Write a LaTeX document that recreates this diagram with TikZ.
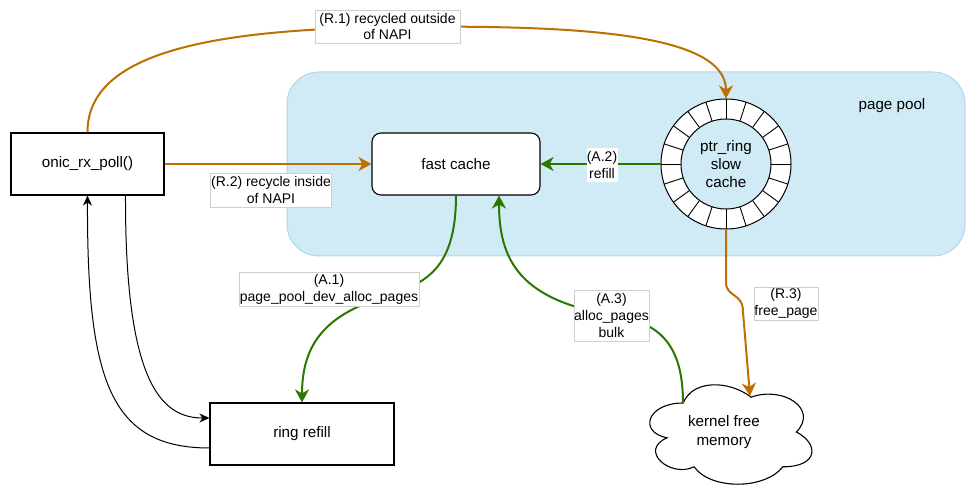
\documentclass[tikz,border=0pt]{standalone}
\usepackage{fontspec}
\setmainfont{Liberation Sans}
\usetikzlibrary{arrows.meta}

\definecolor{orng}{HTML}{BD7000}
\definecolor{grn}{HTML}{2D7600}
\definecolor{poolfill}{HTML}{D0EAF6}
\definecolor{poolline}{HTML}{B1D6EC}
\definecolor{lblline}{HTML}{CFCFCF}

\tikzset{
  nodefont/.style={font=\fontsize{15.2}{18.2}\selectfont},
  lblfont/.style={font=\fontsize{14}{16.8}\selectfont},
  box/.style={draw=black, line width=1.1pt, fill=white, inner sep=0pt, nodefont, align=center},
  roundbox/.style={box, rounded corners=9pt},
  lbl/.style={fill=white, draw=lblline, line width=0.8pt, inner sep=0pt, lblfont, align=center},
  lblplain/.style={fill=white, inner sep=0pt, lblfont, align=center},
  recycle/.style={draw=orng, line width=2pt, -{Stealth[length=13pt,width=14pt,inset=4pt]}},
  alloc/.style={draw=grn, line width=2pt, -{Stealth[length=13pt,width=14pt,inset=4pt]}},
  ctrl/.style={draw=black, line width=1pt, -{Stealth[length=10pt,width=9pt,inset=3pt]}},
}

\begin{document}
\begin{tikzpicture}[x=1pt, y=-1pt]
\useasboundingbox (0,0) rectangle (967,489);

% page pool area
\node[draw=poolline, fill=poolfill, line width=1pt, rounded corners=32pt,
      minimum width=678pt, minimum height=184pt, inner sep=0pt] (pool) at (626,164) {};
\node[nodefont] (pooltitle) at (892,106) {page pool};

% main blocks
\node[box, minimum width=153pt, minimum height=62pt] (poll) at (87.5,164) {onic\_rx\_poll()};
\node[roundbox, minimum width=168pt, minimum height=62pt] (fc) at (456,164) {fast cache};
\node[box, minimum width=184pt, minimum height=62pt] (refill) at (302,434) {ring refill};

% ptr_ring drawn as a slotted ring
\node[circle, draw=black, line width=1pt, fill=white, minimum size=130pt, inner sep=0pt] (ring) at (726,164) {};
\foreach \a in {0,18,...,342}
  \draw[line width=0.9pt] ([shift={(\a:45)}]ring.center) -- ([shift={(\a:65)}]ring.center);
\node[circle, draw=black, line width=1pt, fill=poolfill, minimum size=90pt, inner sep=0pt,
      nodefont, align=center] (ringin) at (726,164) {ptr\_ring\\slow\\cache};

% kernel free memory cloud
\begin{scope}[shift={(638,374)}, x=181pt, y=-116pt]
  \draw[line width=1.1pt, fill=white]
    (0.25,0.25) .. controls (0.05,0.25) and (0,0.5) .. (0.16,0.55)
    .. controls (0,0.66) and (0.18,0.9) .. (0.31,0.8)
    .. controls (0.4,1) and (0.7,1) .. (0.8,0.8)
    .. controls (1,0.8) and (1,0.6) .. (0.875,0.5)
    .. controls (1,0.3) and (0.8,0.1) .. (0.625,0.2)
    .. controls (0.5,0.05) and (0.3,0.05) .. (0.25,0.25) -- cycle;
\end{scope}
\node[nodefont, align=center] (mem) at (724,432) {kernel free\\memory};
\coordinate (memA) at (683,403);
\coordinate (memR) at (750,396);

% recycle paths
\draw[recycle] (poll.north) .. controls (87,50) and (220,30) .. (387,27)
  .. controls (560,25) and (726,30) .. (ring.north);
\draw[recycle] (poll.east) -- (fc.west);
\draw[recycle] (ring.south) -- (726,282) .. controls (726,298) and (743,292) .. (743,312) -- (memR);

% allocation paths
\draw[alloc] (ring.west) -- (fc.east);
\draw[alloc] (fc.south) .. controls (456,275) and (420,285) .. (380,298)
  .. controls (330,315) and (302,340) .. (refill.north);
\draw[alloc] (memA) .. controls (683,345) and (660,322) .. (612,315)
  .. controls (520,300) and (499,260) .. ([xshift=43pt]fc.south);

% driver loop
\draw[ctrl] ([xshift=38pt]poll.south) .. controls (125,380) and (160,418) .. ([yshift=16pt]refill.west);
\draw[ctrl] ([yshift=-14pt]refill.west) .. controls (110,448) and (87,380) .. (poll.south);

% edge labels
\node[lbl, minimum width=145pt, minimum height=33pt] (lr1) at (387.5,26.5) {(R.1) recycled outside\\of NAPI};
\node[lbl, minimum width=121pt, minimum height=34pt] (lr2) at (271,190) {(R.2) recycle inside\\of NAPI};
\node[lbl, minimum width=64pt, minimum height=33pt] (lr3) at (786,303.5) {(R.3)\\free\_page};
\node[lbl, minimum width=180pt, minimum height=34pt] (la1) at (329,289) {(A.1)\\page\_pool\_dev\_alloc\_pages};
\node[lblplain, minimum width=31pt, minimum height=34pt] (la2) at (602,165) {(A.2)\\refill};
\node[lbl, minimum width=75pt, minimum height=51pt] (la3) at (611.5,315.5) {(A.3)\\alloc\_pages\\bulk};
\end{tikzpicture}
\end{document}
